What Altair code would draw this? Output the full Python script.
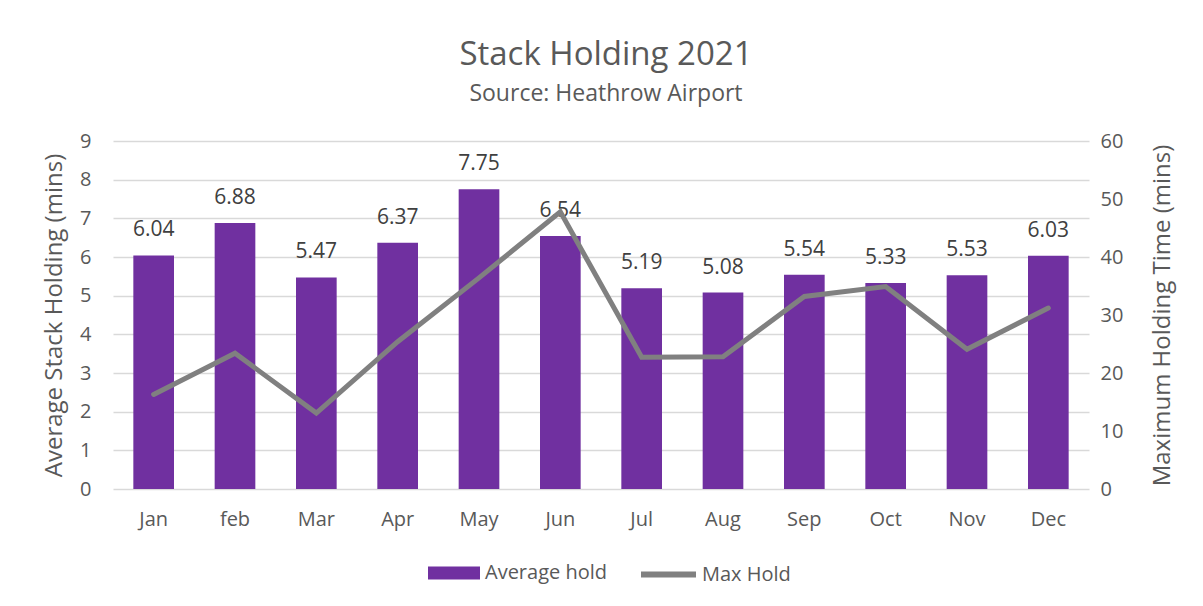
import altair as alt
import pandas as pd

months = ["Jan", "feb", "Mar", "Apr", "May", "Jun", "Jul", "Aug", "Sep", "Oct", "Nov", "Dec"]
avg_hold = [6.04, 6.88, 5.47, 6.37, 7.75, 6.54, 5.19, 5.08, 5.54, 5.33, 5.53, 6.03]
max_hold = [16.3, 23.4, 13.1, 25.4, 36.4, 47.8, 22.7, 22.8, 33.2, 34.9, 24.1, 31.2]
left_ticks = [0, 1, 2, 3, 4, 5, 6, 7, 8, 9]
right_ticks = [0, 10, 20, 30, 40, 50, 60]

df = pd.DataFrame({"month": months, "avg": avg_hold, "max": max_hold})

FONT = "Open Sans"
TXT = "#595959"
PURPLE = "#7030A0"
GREY = "#808080"
LBL = 20

x_enc = alt.X(
    "month:N",
    sort=months,
    scale=alt.Scale(paddingInner=0.5, paddingOuter=0.25),
    axis=alt.Axis(title=None, labelAngle=0, labelFontSize=LBL, labelColor=TXT,
                  labelFont=FONT, domain=False, ticks=False, labelPadding=20),
)

left_axis = alt.Axis(values=left_ticks, tickCount=10, title="Average Stack Holding (mins)",
                     titleFontSize=24, titleColor=TXT, titleFont=FONT,
                     titleFontWeight="normal", titlePadding=13,
                     labelFontSize=LBL, labelColor=TXT, labelFont=FONT,
                     labelPadding=22, labelOverlap=False, domain=False, ticks=False,
                     grid=True, gridColor="#D9D9D9", gridWidth=1.5)
left_scale = alt.Scale(domain=[0, 9], nice=False)

bars = alt.Chart(df).mark_bar().transform_calculate(
    s1="'Average hold'"
).encode(
    x=x_enc,
    y=alt.Y("avg:Q", scale=left_scale, axis=left_axis),
    fill=alt.Fill(
        "s1:N",
        scale=alt.Scale(domain=["Average hold"], range=[PURPLE]),
        legend=alt.Legend(title=None, orient="none", legendX=315, legendY=406,
                          symbolType="M-1,-0.25L1,-0.25L1,0.25L-1,0.25Z",
                          symbolSize=2704, symbolStrokeWidth=0,
                          labelFontSize=LBL, labelColor=TXT, labelFont=FONT,
                          labelOffset=5),
    ),
)

labels = alt.Chart(df).mark_text(
    fontSize=21, font=FONT, color="#404040", baseline="middle", dy=-25
).encode(
    x=alt.X("month:N", sort=months),
    y=alt.Y("avg:Q", scale=left_scale, axis=left_axis),
    text=alt.Text("avg:Q", format=".2f"),
)

line = alt.Chart(df).mark_line(strokeWidth=5, strokeCap="round").transform_calculate(
    s2="'Max Hold'"
).encode(
    x=alt.X("month:N", sort=months),
    y=alt.Y(
        "max:Q",
        scale=alt.Scale(domain=[0, 60], nice=False),
        axis=alt.Axis(orient="right", values=right_ticks,
                      title="Maximum Holding Time (mins)", titleAngle=270,
                      titleFontSize=24, titleColor=TXT, titleFont=FONT,
                      titleFontWeight="normal", titlePadding=52,
                      labelFontSize=LBL, labelColor=TXT, labelFont=FONT,
                      labelPadding=11, labelOverlap=False, domain=False,
                      ticks=False, grid=False),
    ),
    stroke=alt.Stroke(
        "s2:N",
        scale=alt.Scale(domain=["Max Hold"], range=[GREY]),
        legend=alt.Legend(title=None, orient="none", legendX=525, legendY=403,
                          symbolType="stroke", symbolSize=3025,
                          symbolStrokeWidth=6,
                          labelFontSize=LBL, labelColor=TXT, labelFont=FONT,
                          labelOffset=3),
    ),
)

left = alt.layer(bars, labels)

chart = alt.layer(left, line).resolve_scale(
    y="independent", fill="independent", stroke="independent"
).properties(
    width=976,
    height=348,
    padding={"left": 105, "top": 133, "right": 106, "bottom": 109},
    autosize=alt.AutoSizeParams(type="none"),
    title=alt.TitleParams(
        "Stack Holding 2021",
        subtitle="Source: Heathrow Airport",
        fontSize=33, font=FONT, fontWeight="normal", color=TXT,
        subtitleFontSize=23, subtitleFont=FONT, subtitleColor=TXT,
        subtitlePadding=11, anchor="middle", offset=25, dx=5,
    ),
).configure_view(stroke=None)

chart.save("out.html", embed_options={"renderer": "svg", "actions": False})
